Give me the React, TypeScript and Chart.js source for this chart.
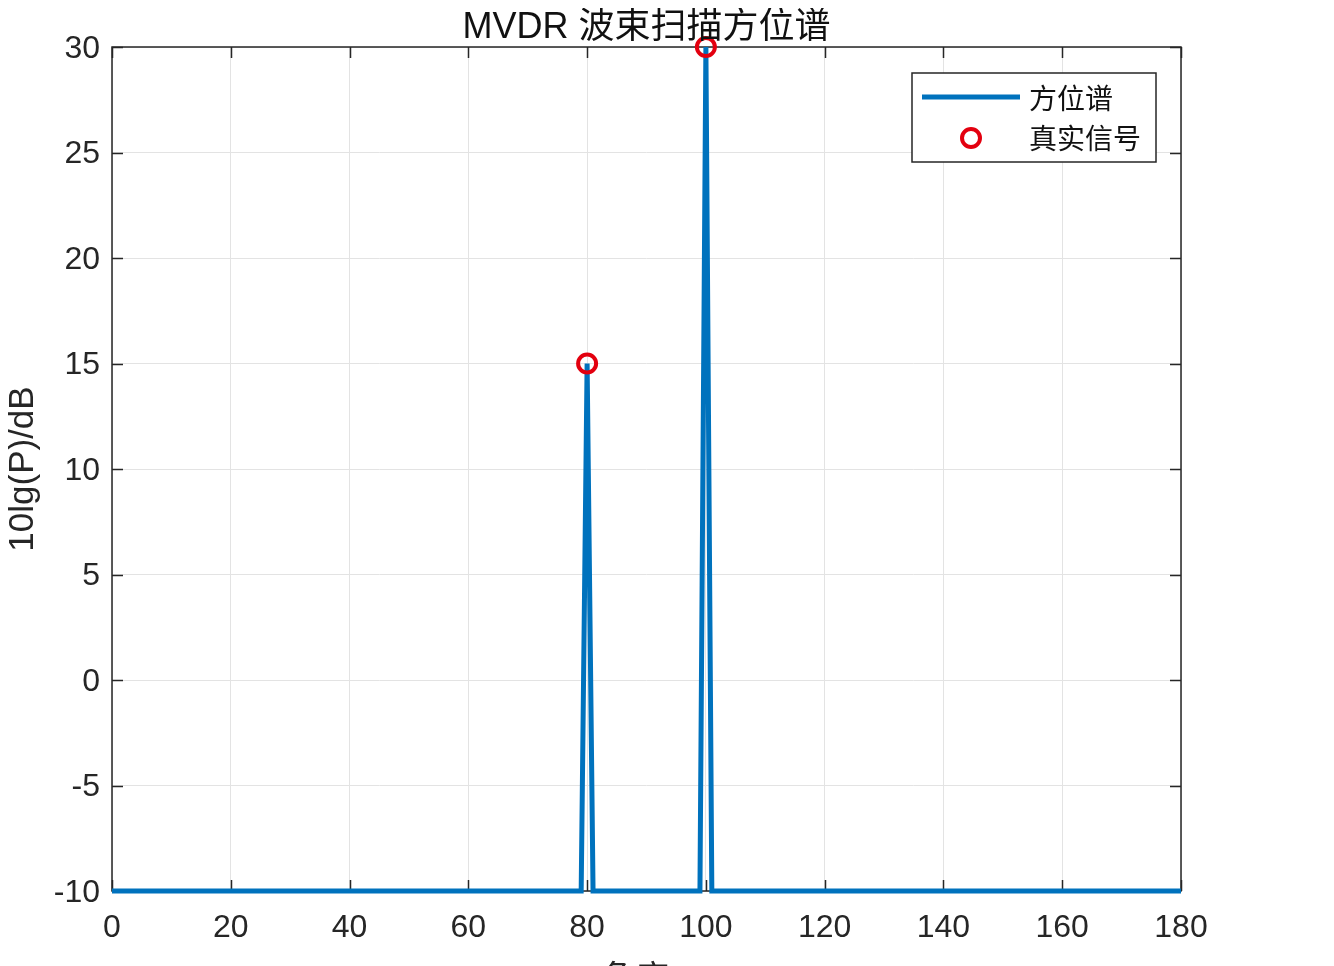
import React, { useEffect, useRef } from "react";
import { Chart, registerables } from "chart.js";

Chart.register(...registerables);

// Spectrum (angle in degrees, power in dB)
const spectrumAngles = [0, 79, 80, 81, 99, 100, 101, 180];
const spectrumPowers = [-10, -10, 15, -10, -10, 30, -10, -10];
// True signal positions
const signalAngles = [80, 100];
const signalPowers = [15, 30];

const titleText = "MVDR 波束扫描方位谱";
const xLabelText = "角度/°";
const yLabelText = "10lg(P)/dB";
const legendLabels = ["方位谱", "真实信号"];

const X_MIN = 0, X_MAX = 180, X_STEP = 20;
const Y_MIN = -10, Y_MAX = 30, Y_STEP = 5;

const LINE_COLOR = "#0072BD";
const MARK_COLOR = "#E3000F";
const AXIS_COLOR = "#262626";
const LATIN = "'Liberation Sans', Arial, sans-serif";
const MIXED = "'Liberation Sans', 'Noto Sans CJK SC', sans-serif";

const CANVAS_W = 1326;
const CANVAS_H = 1000;

const decorPlugin = {
  id: "decor",
  beforeDatasetsDraw(chart: any) {
    const { ctx, chartArea: a, scales } = chart;
    const xs = scales.x, ys = scales.y;
    ctx.save();
    ctx.strokeStyle = AXIS_COLOR;
    ctx.lineWidth = 1.5;
    ctx.strokeRect(a.left, a.top, a.right - a.left, a.bottom - a.top);
    const tl = 11;
    ctx.beginPath();
    for (let v = X_MIN; v <= X_MAX; v += X_STEP) {
      const px = Math.round(xs.getPixelForValue(v)) + 0.5;
      ctx.moveTo(px, a.bottom); ctx.lineTo(px, a.bottom - tl);
      ctx.moveTo(px, a.top); ctx.lineTo(px, a.top + tl);
    }
    for (let v = Y_MIN; v <= Y_MAX; v += Y_STEP) {
      const py = Math.round(ys.getPixelForValue(v)) + 0.5;
      ctx.moveTo(a.left, py); ctx.lineTo(a.left + tl, py);
      ctx.moveTo(a.right, py); ctx.lineTo(a.right - tl, py);
    }
    ctx.stroke();
    // y tick labels
    ctx.fillStyle = AXIS_COLOR;
    ctx.font = `32px ${LATIN}`;
    ctx.textAlign = "right";
    ctx.textBaseline = "middle";
    for (let v = Y_MIN; v <= Y_MAX; v += Y_STEP) {
      ctx.fillText(String(v), a.left - 12, ys.getPixelForValue(v) + 2);
    }
    ctx.restore();
  },
  afterDraw(chart: any) {
    const { ctx, chartArea: a } = chart;
    const cx = (a.left + a.right) / 2;
    ctx.save();
    // title
    ctx.fillStyle = "#111";
    ctx.font = `36px ${MIXED}`;
    ctx.textAlign = "center";
    ctx.textBaseline = "middle";
    ctx.fillText(titleText, cx, 20);
    // x label (mostly clipped by the page bottom)
    ctx.fillStyle = AXIS_COLOR;
    ctx.font = `34px ${MIXED}`;
    ctx.fillText(xLabelText, cx, 973);
    // y label
    ctx.save();
    ctx.translate(15, 461);
    ctx.rotate(-Math.PI / 2);
    ctx.font = `35px ${LATIN}`;
    ctx.fillText(yLabelText, 0, 0);
    ctx.restore();
    // legend
    const bx = 904, by = 65, bw = 244, bh = 89;
    ctx.fillStyle = "#fff";
    ctx.fillRect(bx, by, bw, bh);
    ctx.strokeStyle = AXIS_COLOR;
    ctx.lineWidth = 1.5;
    ctx.strokeRect(bx, by, bw, bh);
    ctx.strokeStyle = LINE_COLOR;
    ctx.lineWidth = 5;
    ctx.beginPath();
    ctx.moveTo(914, 89);
    ctx.lineTo(1012, 89);
    ctx.stroke();
    ctx.strokeStyle = MARK_COLOR;
    ctx.lineWidth = 4;
    ctx.beginPath();
    ctx.arc(963, 130, 9, 0, Math.PI * 2);
    ctx.stroke();
    ctx.fillStyle = "#111";
    ctx.font = `28px 'Noto Sans CJK SC', sans-serif`;
    ctx.textAlign = "left";
    ctx.textBaseline = "middle";
    ctx.fillText(legendLabels[0], 1021, 90);
    ctx.fillText(legendLabels[1], 1021, 130);
    ctx.restore();
  },
};

export default function App() {
  const ref = useRef<HTMLCanvasElement>(null);
  useEffect(() => {
    if (!ref.current) return;
    const chart = new Chart(ref.current, {
      type: "scatter",
      data: {
        datasets: [
          {
            type: "line",
            label: legendLabels[0],
            data: spectrumAngles.map((x, i) => ({ x, y: spectrumPowers[i] })),
            borderColor: LINE_COLOR,
            backgroundColor: LINE_COLOR,
            borderWidth: 5,
            pointRadius: 0,
            tension: 0,
            clip: 6,
            order: 2,
          } as any,
          {
            type: "scatter",
            label: legendLabels[1],
            data: signalAngles.map((x, i) => ({ x, y: signalPowers[i] })),
            borderColor: MARK_COLOR,
            backgroundColor: "rgba(0,0,0,0)",
            borderWidth: 4,
            pointRadius: 9,
            clip: false,
            order: 1,
          } as any,
        ],
      },
      options: {
        responsive: false,
        animation: false,
        devicePixelRatio: 1,
        layout: { padding: { top: 39, left: 0, right: 153, bottom: 0 } },
        plugins: {
          legend: { display: false },
          title: { display: false },
          tooltip: { enabled: false },
        },
        scales: {
          x: {
            type: "linear",
            min: X_MIN,
            max: X_MAX,
            afterFit: (s: any) => { s.height = CANVAS_H - 883; },
            ticks: {
              stepSize: X_STEP,
              color: AXIS_COLOR,
              font: { family: LATIN, size: 32 },
              padding: 18,
              maxRotation: 0,
            },
            grid: { color: "#e3e3e3", lineWidth: 1, drawTicks: false },
            border: { display: false },
          },
          y: {
            type: "linear",
            min: Y_MIN,
            max: Y_MAX,
            afterFit: (s: any) => { s.width = 104; },
            ticks: {
              stepSize: Y_STEP,
              display: false,
            },
            grid: { color: "#e3e3e3", lineWidth: 1, drawTicks: false },
            border: { display: false },
          },
        },
      },
      plugins: [decorPlugin],
    });
    return () => chart.destroy();
  }, []);
  return (
    <div style={{ width: CANVAS_W, height: 958, overflow: "hidden" }}>
      <canvas ref={ref} width={CANVAS_W} height={CANVAS_H} style={{ display: "block" }} />
    </div>
  );
}
